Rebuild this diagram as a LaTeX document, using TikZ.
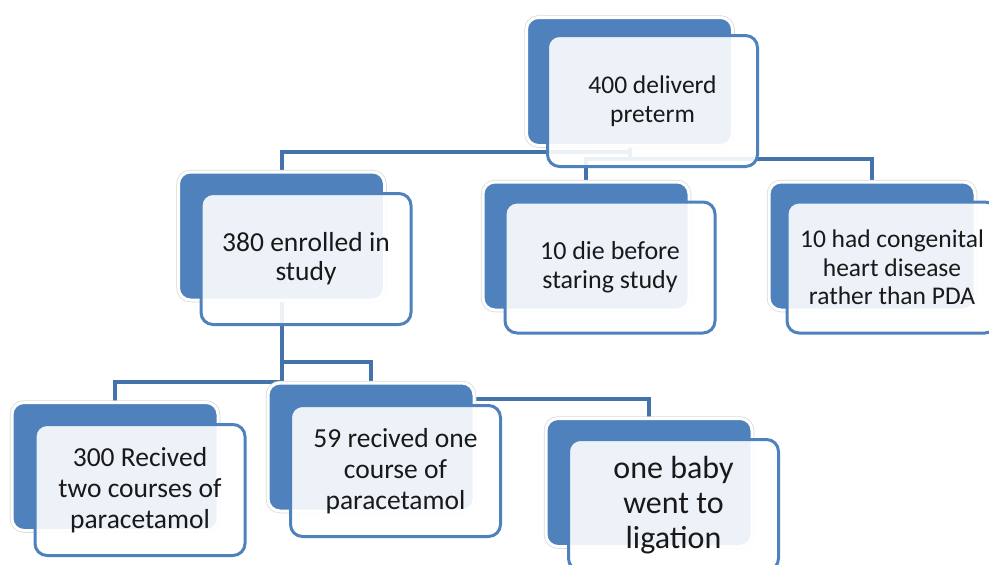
\documentclass[tikz,border=0pt]{standalone}
\usepackage{fontspec}
\setmainfont{Carlito}
\usetikzlibrary{backgrounds}

\definecolor{boxblue}{RGB}{79,129,189}
\definecolor{linkblue}{RGB}{68,114,170}
\definecolor{txtgray}{RGB}{25,25,25}

\begin{document}
\begin{tikzpicture}[
        x=1pt, y=-1pt,
        back/.style={rectangle, rounded corners=12pt, fill=boxblue,
            draw=white, line width=3pt,
            preaction={draw=black!15, line width=4.5pt},
            minimum width=206pt, minimum height=128pt, inner sep=0pt},
        front/.style={rectangle, rounded corners=12pt, fill=white,
            fill opacity=0.9, text opacity=1, draw=boxblue, line width=3pt,
            minimum width=210pt, minimum height=131pt, inner sep=3pt,
            align=center, text=txtgray,
            font=\fontsize{25.5}{28.5}\selectfont},
        lowtext/.style={font=\fontsize{27.5}{31}\selectfont},
        link/.style={draw=linkblue, line width=4pt},
    ]

    \useasboundingbox (0,0) rectangle (989,565);

    % back boxes
    \node[back] (top) at (629.5,81.5) {};
    \node[back] (enr) at (281.5,236) {};
    \node[back] (die) at (586,246) {};
    \node[back] (chd) at (872,246) {};
    \node[back] (rec2) at (115,466.5) {};
    \node[back] (rec1) at (371,447) {};
    \node[back] (lig) at (649,482.5) {};

    % connectors
    \begin{pgfonlayer}{background}
        \draw[link] (top.south) -- ++(0,5) -| (enr.north);
        \draw[link] (top.south) -- ++(0,12) -| (die.north);
        \draw[link] (top.south) -- ++(0,12) -| (chd.north);
        \draw[link] (enr.south) -- ++(0,80) -| (rec2.north);
        \draw[link] (enr.south) -- ++(0,60) -| (rec1.north);
        \draw[link] (enr.south) -- ++(0,97) -| (lig.north);
    \end{pgfonlayer}

    % front boxes
    \node[front] (topf) at (652.5,101) {400 deliverd\\preterm};
    \node[front, font=\fontsize{27.5}{29}\selectfont] (enrf) at (306,259)
        {380 enrolled in\\study};
    \node[front, font=\fontsize{26}{29}\selectfont] (dief) at (610,267.5)
        {10 die before\\staring study};
    \node[front] (chdf) at (892,267.5) {10 had congenital\\heart disease\\rather than PDA};
    \node[front, lowtext] (rec2f) at (140,490) {300 Recived\\two courses of\\paracetamol};
    \node[front, lowtext] (rec1f) at (395.5,471) {59 recived one\\course of\\paracetamol};
    \node[front, font=\fontsize{32}{35}\selectfont] (ligf) at (673.5,505)
        {one baby\\went to\\ligation};

\end{tikzpicture}
\end{document}
